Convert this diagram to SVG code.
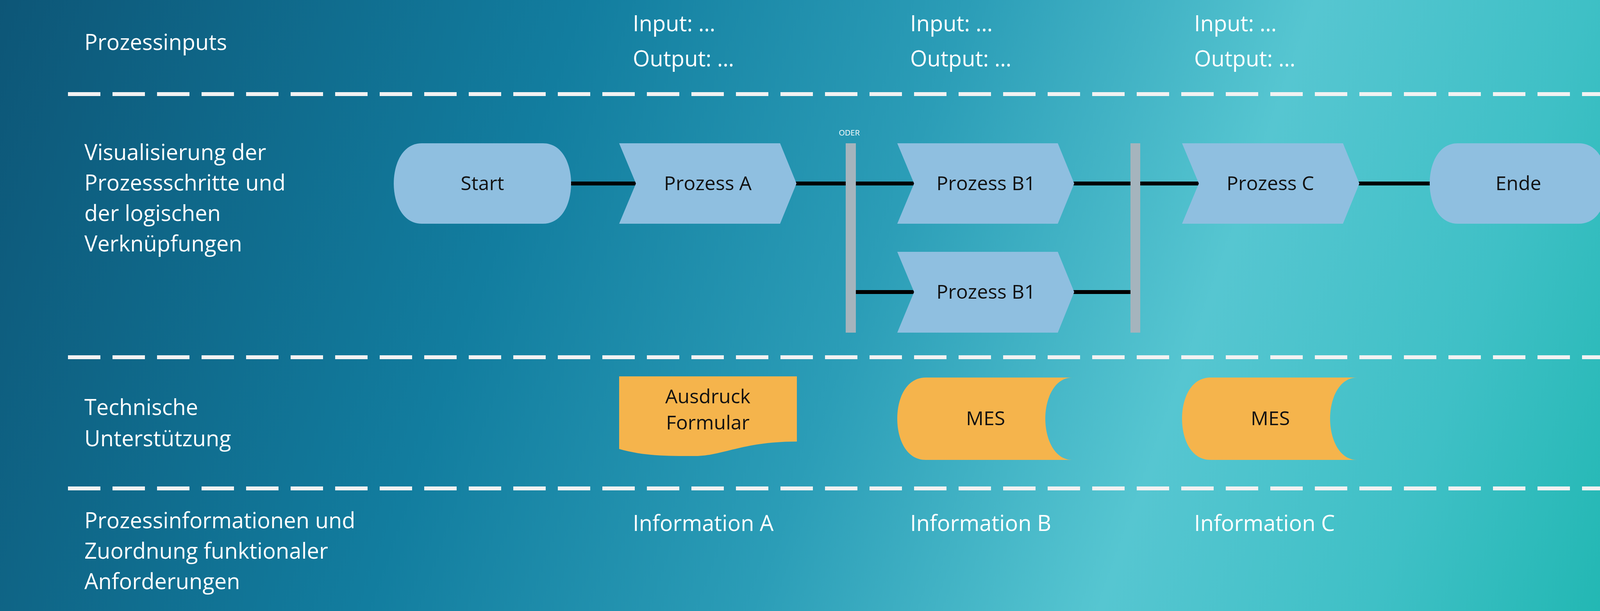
<svg xmlns="http://www.w3.org/2000/svg" width="4401" height="1565" viewBox="0 0 4401 1565">
<defs>
<linearGradient id="bg" x1="0" y1="0" x2="4401" y2="1565" gradientUnits="userSpaceOnUse">
<stop offset="0" stop-color="#0d5677"/>
<stop offset="0.3" stop-color="#127d9f"/>
<stop offset="0.5" stop-color="#2b9db7"/>
<stop offset="0.68" stop-color="#56c6d1"/>
<stop offset="0.82" stop-color="#3fc0c6"/>
<stop offset="1" stop-color="#14b3aa"/>
</linearGradient>
<style>
.lbl{font-family:"Open Sans","Noto Sans",sans-serif;font-size:56px;fill:#ffffff}
.nt{font-family:"Open Sans","Noto Sans",sans-serif;font-size:50px;fill:#111;text-anchor:middle}
.proc{fill:#8fbfe0}
.tech{fill:#f5b44c}
.bar{fill:#a5b4bd}
.dash{stroke:#f2f2f2;stroke-width:10;stroke-dasharray:83 31}
.con{stroke:#000;stroke-width:10}
</style>
</defs>
<rect width="4401" height="1565" fill="url(#bg)"/>
<g id="separators">
<line class="dash" x1="174" y1="241" x2="4226" y2="241"/>
<line class="dash" x1="174" y1="915" x2="4226" y2="915"/>
<line class="dash" x1="174" y1="1251" x2="4226" y2="1251"/>
</g>
<g id="row-labels">
<text class="lbl" x="216" y="128">Prozessinputs</text>
<text class="lbl" x="216" y="410">Visualisierung der</text>
<text class="lbl" x="216" y="488">Prozessschritte und</text>
<text class="lbl" x="216" y="566">der logischen</text>
<text class="lbl" x="216" y="644">Verknüpfungen</text>
<text class="lbl" x="216" y="1063">Technische</text>
<text class="lbl" x="216" y="1143">Unterstützung</text>
<text class="lbl" x="216" y="1353">Prozessinformationen und</text>
<text class="lbl" x="216" y="1431">Zuordnung funktionaler</text>
<text class="lbl" x="216" y="1509">Anforderungen</text>
</g>
<g id="io-texts">
<text class="lbl" x="1620" y="80">Input: …</text>
<text class="lbl" x="1620" y="170">Output: …</text>
<text class="lbl" x="2330" y="80">Input: …</text>
<text class="lbl" x="2330" y="170">Output: …</text>
<text class="lbl" x="3057" y="80">Input: …</text>
<text class="lbl" x="3057" y="170">Output: …</text>
<text class="lbl" x="1620" y="1360">Information A</text>
<text class="lbl" x="2330" y="1360">Information B</text>
<text class="lbl" x="3057" y="1360">Information C</text>
</g>
<g id="connectors">
<line class="con" x1="1460" y1="470" x2="1630" y2="470"/>
<line class="con" x1="2037" y1="470" x2="2165" y2="470"/>
<line class="con" x1="2191" y1="470" x2="2342" y2="470"/>
<line class="con" x1="2748" y1="470" x2="2894" y2="470"/>
<line class="con" x1="2919" y1="470" x2="3070" y2="470"/>
<line class="con" x1="3478" y1="470" x2="3662" y2="470"/>
<line class="con" x1="2191" y1="748" x2="2342" y2="748"/>
<line class="con" x1="2748" y1="748" x2="2894" y2="748"/>
</g>
<g id="start">
<path class="proc" d="M1080,367 H1390 C1440,367 1462,420 1462,470 C1462,520 1440,573 1390,573 H1080 C1030,573 1008,520 1008,470 C1008,420 1030,367 1080,367 Z"/>
<text class="nt" x="1235" y="487">Start</text>
</g>
<g id="prozess-a">
<polygon class="proc" points="1585,367 1997,367 2039,470 1997,573 1585,573 1628,470"/>
<text class="nt" x="1812" y="487">Prozess A</text>
</g>
<g id="oder1">
<rect class="bar" x="2165" y="367" width="26" height="485"/>
<text x="2174" y="347" style="font-family:'Open Sans',sans-serif;font-size:20px;fill:#fff;text-anchor:middle">ODER</text>
</g>
<g id="prozess-b1-top">
<polygon class="proc" points="2297,367 2708,367 2750,470 2708,573 2297,573 2340,470"/>
<text class="nt" x="2524" y="487">Prozess B1</text>
</g>
<g id="prozess-b1-bottom">
<polygon class="proc" points="2297,645 2708,645 2750,748 2708,852 2297,852 2340,748"/>
<text class="nt" x="2524" y="765">Prozess B1</text>
</g>
<g id="oder2">
<rect class="bar" x="2894" y="367" width="25" height="485"/>
</g>
<g id="prozess-c">
<polygon class="proc" points="3026,367 3438,367 3480,470 3438,573 3026,573 3069,470"/>
<text class="nt" x="3252" y="487">Prozess C</text>
</g>
<g id="ende">
<path class="proc" d="M3732,367 H4042 C4092,367 4114,420 4114,470 C4114,520 4092,573 4042,573 H3732 C3682,573 3660,520 3660,470 C3660,420 3682,367 3732,367 Z"/>
<text class="nt" x="3887" y="487">Ende</text>
</g>
<g id="ausdruck-formular">
<path class="tech" d="M1585,964 H2040 V1131 C1900,1131 1850,1168 1780,1168 C1700,1168 1650,1168 1585,1150 Z"/>
<text class="nt" x="1812" y="1033">Ausdruck</text>
<text class="nt" x="1812" y="1100">Formular</text>
</g>
<g id="mes-b">
<path class="tech" d="M2370,967 H2745 C2700,967 2676,1020 2676,1072 C2676,1125 2700,1178 2745,1178 H2370 C2320,1178 2297,1125 2297,1072 C2297,1020 2320,967 2370,967 Z"/>
<text class="nt" x="2523" y="1089">MES</text>
</g>
<g id="mes-c">
<path class="tech" d="M3099,967 H3474 C3429,967 3405,1020 3405,1072 C3405,1125 3429,1178 3474,1178 H3099 C3049,1178 3026,1125 3026,1072 C3026,1020 3049,967 3099,967 Z"/>
<text class="nt" x="3252" y="1089">MES</text>
</g>
</svg>
